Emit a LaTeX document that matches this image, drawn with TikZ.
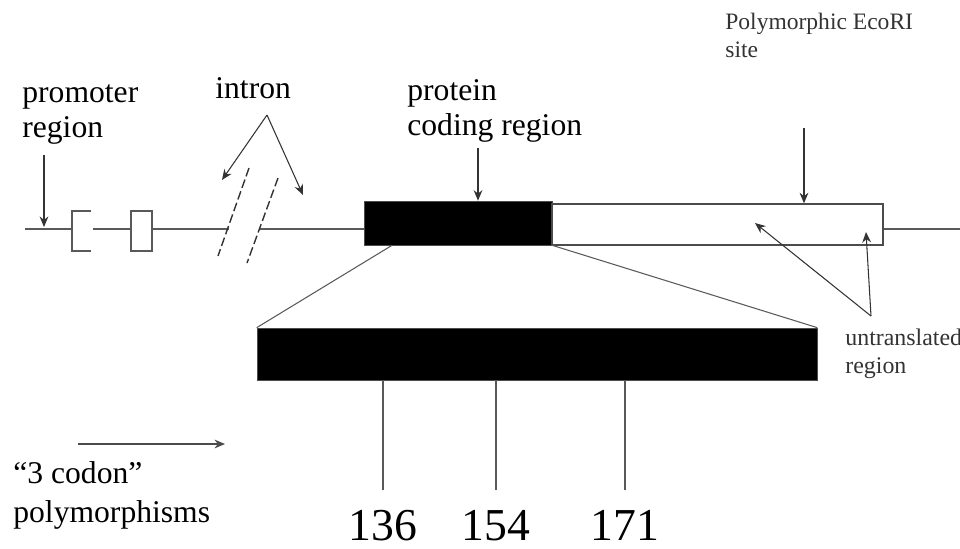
\documentclass[tikz,border=0pt]{standalone}
\usepackage{fontspec}
\setmainfont{Liberation Serif}
\usetikzlibrary{arrows.meta,calc}

\tikzset{
  dna/.style={draw=gray!70!black, line width=0.9pt},
  slash/.style={draw=gray!40!black, line width=0.8pt, dash pattern=on 5pt off 2pt},
  pointer/.style={draw=gray!40!black, line width=0.6pt, -{Stealth[length=6pt,width=5pt]}},
  lbl/.style={anchor=base west, inner sep=0pt, font=\fontsize{18}{21}\selectfont},
  small/.style={anchor=base west, inner sep=0pt, font=\fontsize{13.4}{15}\selectfont, text=black!80},
  num/.style={anchor=base, inner sep=0pt, font=\fontsize{26}{30}\selectfont},
  blackbox/.style={fill=black, draw=gray!60!black, inner sep=0pt},
}

\begin{document}
\begin{tikzpicture}[x=0.02cm, y=-0.02cm]
  \useasboundingbox (0,0) rectangle (960,548);

  % labels
  \node[lbl] (prom1) at (22,102) {promoter};
  \node[lbl] (prom2) at (22,137) {region};
  \node[lbl] (intron) at (215,98) {intron};
  \node[lbl] (prot1) at (407,100) {protein};
  \node[lbl] (prot2) at (407,135) {coding region};
  \node[small] (eco1) at (725,29) {Polymorphic EcoRI};
  \node[small] (eco2) at (725,57) {site};
  \node[small, font=\fontsize{13.6}{16}\selectfont] (utr1) at (845,345) {untranslated};
  \node[small, font=\fontsize{13.6}{16}\selectfont] (utr2) at (845,373) {region};
  \node[lbl] (codon1) at (13,483) {``3 codon''};
  \node[lbl] (codon2) at (13,522) {polymorphisms};

  % gene boxes
  \node[blackbox, minimum width=3.76cm, minimum height=0.88cm] (exon) at (458,223) {};
  \node[draw=gray!60!black, line width=0.8pt, fill=white, inner sep=0pt,
        minimum width=6.62cm, minimum height=0.82cm] (utr) at (717.5,224.5) {};
  \node[blackbox, minimum width=11.2cm, minimum height=1.04cm] (zoom) at (537,354) {};

  % gene line
  \draw[dna] (25,229) -- (72,229);
  \draw[dna] (91,211) -- (72,211) -- (72,251) -- (91,251);
  \draw[dna] (93,229) -- (131,229);
  \draw[dna] (131,211) rectangle (152,251);
  \draw[dna] (152,229) -- (229,229);
  \draw[dna] (260,229) -- (exon.west |- 0,229);
  \draw[dna] (utr.east |- 0,229) -- (960,229);
  \draw[slash] (249,168) -- (218,256);
  \draw[slash] (278,178) -- (247,263);

  % expansion
  \draw[dna, line width=0.6pt] ($(exon.south west)!0.15!(exon.south east)$) -- (zoom.north west);
  \draw[dna, line width=0.6pt] (exon.south east) -- (zoom.north east);

  % codons
  \foreach \c/\x in {136/383, 154/496, 171/625} {
    \node[num] (c\c) at (\x,540) {\c};
    \draw[dna, line width=0.7pt] (c\c |- zoom.south) -- ++(0,110);
  }

  % pointers
  \coordinate (promtip) at (44,227);
  \draw[pointer] (44,155) -- (promtip);
  \coordinate (intronfork) at (267,115);
  \draw[pointer] (intronfork) -- (222,180);
  \draw[pointer] (intronfork) -- (303,195);
  \draw[pointer] (478,148) -- (exon.north -| 478,0);
  \draw[pointer] (804,128) -- (utr.north -| 804,0);
  \coordinate (utrfork) at (871,316);
  \draw[pointer] (utrfork) -- (755,223);
  \draw[pointer] (utrfork) -- (866,232);
  \draw[pointer, draw=gray!60!black] (78,444) -- (225,444);
\end{tikzpicture}
\end{document}
